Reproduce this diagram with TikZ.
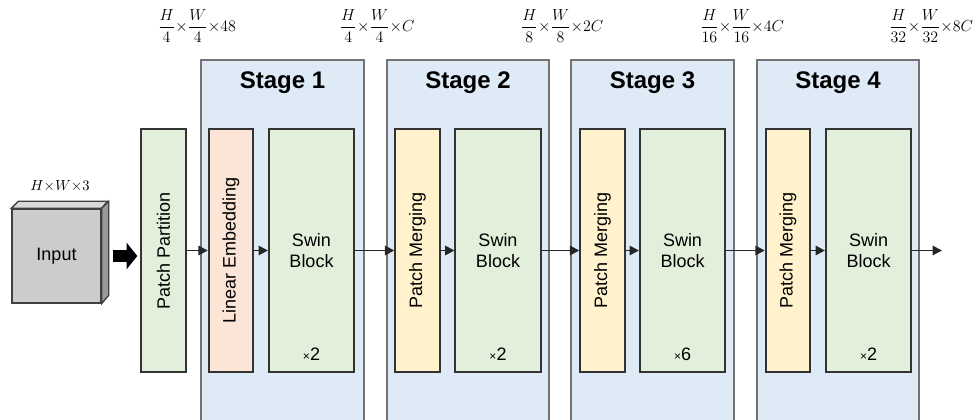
\documentclass[tikz,border=0pt]{standalone}
\usepackage{amsmath}
\usepackage{graphicx}
\usepackage{fontspec}
\setsansfont{Liberation Sans}
\usepackage{tikz}
\usetikzlibrary{arrows.meta}

\definecolor{stageblue}{HTML}{DEEBF7}
\definecolor{swingreen}{HTML}{E2EFDA}
\definecolor{embpeach}{HTML}{FCE4D6}
\definecolor{mergeyellow}{HTML}{FFF2CC}

\begin{document}
\begin{tikzpicture}[x=0.75pt, y=-0.75pt,
  box/.style={draw=black!80, line width=1.3pt, inner sep=0pt, minimum height=182.25pt, font=\sffamily\fontsize{13.5}{15.5}\selectfont},
  thinbox/.style={box, minimum width=33.5pt},
  swin/.style={box, fill=swingreen, minimum width=64pt, align=center},
  stage/.style={draw=black!55, line width=1pt, fill=stageblue},
  title/.style={font=\sffamily\bfseries\fontsize{18}{20}\selectfont},
  times/.style={font=\sffamily\fontsize{13.5}{15.5}\selectfont},
  dim/.style={font=\fontsize{12}{14}\selectfont},
  conn/.style={-{Triangle[length=7pt,width=7pt]}, line width=1.4pt, black!85}]
\clip (0,0) rectangle (974,420);
% stages
\draw[stage] (201,60) rectangle (364,430);
\draw[stage] (387,60) rectangle (549,430);
\draw[stage] (571,60) rectangle (734,430);
\draw[stage] (757,60) rectangle (919,430);
\node[title] (t1) at (282.5,83) {Stage 1};
\node[title] (t2) at (468,83) {Stage 2};
\node[title] (t3) at (652.5,83) {Stage 3};
\node[title] (t4) at (838,83) {Stage 4};
% input
\node[draw=black!75, line width=1pt, fill=black!20, minimum width=66.75pt, minimum height=70.5pt, font=\sffamily\fontsize{13.5}{15.5}\selectfont] (inp) at (56.5,256) {Input};
\filldraw[draw=black!75, line width=1pt, fill=black!15] (inp.north west) -- ++(7,-7) -- ++(89,0) -- (inp.north east) -- cycle;
\filldraw[draw=black!75, line width=1pt, fill=black!40] (inp.north east) -- ++(7,-7) -- ++(0,94) -- (inp.south east) -- cycle;
\node[font=\fontsize{10.5}{12}\selectfont] (d0) at (60,186) {$H{\times}W{\times}3$};
% blocks
\node[thinbox, fill=swingreen] (pp) at (163.5,250.5) {\rotatebox{90}{Patch Partition}};
\node[thinbox, fill=embpeach] (le) at (231,250.5) {\rotatebox{90}{Linear Embedding}};
\node[swin] (sb1) at (311.5,250.5) {Swin\\Block};
\node[thinbox, fill=mergeyellow] (pm2) at (417.5,250.5) {\rotatebox{90}{Patch Merging}};
\node[swin] (sb2) at (498,250.5) {Swin\\Block};
\node[thinbox, fill=mergeyellow] (pm3) at (602.5,250.5) {\rotatebox{90}{Patch Merging}};
\node[swin] (sb3) at (682.5,250.5) {Swin\\Block};
\node[thinbox, fill=mergeyellow] (pm4) at (788,250.5) {\rotatebox{90}{Patch Merging}};
\node[swin] (sb4) at (868.5,250.5) {Swin\\Block};
\node[times] (r1) at (311.5,354) {{\small ×}2};
\node[times] (r2) at (498,354) {{\small ×}2};
\node[times] (r3) at (682.5,354) {{\small ×}6};
\node[times] (r4) at (868.5,354) {{\small ×}2};
\coordinate (out) at (942,250.5);
% sizes
\node[dim] (d1) at (197,26) {$\dfrac{H}{4}{\times}\dfrac{W}{4}{\times}48$};
\node[dim] (d2) at (377,26) {$\dfrac{H}{4}{\times}\dfrac{W}{4}{\times}C$};
\node[dim] (d3) at (562,26) {$\dfrac{H}{8}{\times}\dfrac{W}{8}{\times}2C$};
\node[dim] (d4) at (742,26) {$\dfrac{H}{16}{\times}\dfrac{W}{16}{\times}4C$};
\node[dim] (d5) at (931,26) {$\dfrac{H}{32}{\times}\dfrac{W}{32}{\times}8C$};
% arrows
\draw[-{Triangle[length=8pt,width=19.5pt]}, line width=9pt, shorten <=8.25pt, shorten >=2.25pt] (inp) -- (inp -| pp.west);
\draw[conn] (pp) -- (le);
\draw[conn] (le) -- (sb1);
\draw[conn] (sb1) -- (pm2);
\draw[conn] (pm2) -- (sb2);
\draw[conn] (sb2) -- (pm3);
\draw[conn] (pm3) -- (sb3);
\draw[conn] (sb3) -- (pm4);
\draw[conn] (pm4) -- (sb4);
\draw[conn] (sb4) -- (out);
\end{tikzpicture}
\end{document}
